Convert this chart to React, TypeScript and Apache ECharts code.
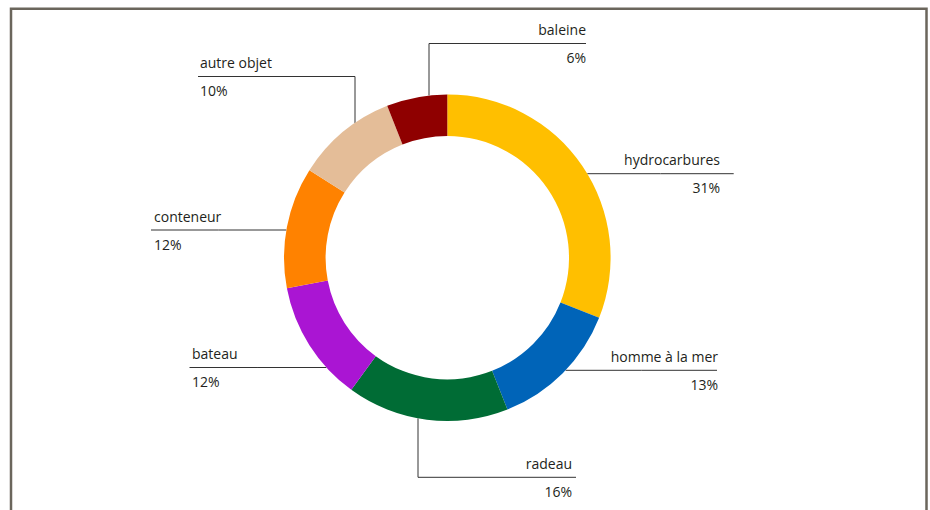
import React, { useEffect, useRef } from "react";
import * as echarts from "echarts";

// ---- data ----
const categories = [
  "hydrocarbures",
  "homme à la mer",
  "radeau",
  "bateau",
  "conteneur",
  "autre objet",
  "baleine",
];
const values = [31, 13, 16, 12, 12, 10, 6];
const colors = ["#ffbf00", "#0064b8", "#006c35", "#aa15d3", "#ff8200", "#e4bd98", "#8f0000"];

// ---- layout (positions only) ----
const CX = 447.3;
const CY = 257.7;
const R_OUT = 163.3;
const R_IN = 121.7;

type Lay = {
  kind: "h" | "v";
  side: 1 | -1; // h: 1 right / -1 left ; v: -1 top / 1 bottom
  anchorX?: number;
  lineY: number;
  endX: number;
  textX: number;
  align: "left" | "right";
};

const labelLayouts: Lay[] = [
  { kind: "h", side: 1, lineY: 173.7, endX: 733.7, textX: 720, align: "right" },
  { kind: "h", side: 1, lineY: 370.3, endX: 717, textX: 718, align: "right" },
  { kind: "v", side: 1, anchorX: 418, lineY: 477.3, endX: 576, textX: 572, align: "right" },
  { kind: "h", side: -1, lineY: 367.5, endX: 189.5, textX: 192, align: "left" },
  { kind: "h", side: -1, lineY: 230, endX: 151, textX: 154, align: "left" },
  { kind: "v", side: -1, anchorX: 355, lineY: 76.5, endX: 198, textX: 200, align: "left" },
  { kind: "v", side: -1, anchorX: 429, lineY: 43.5, endX: 586, textX: 586, align: "right" },
];

const TEXT_COLOR = "#231f20";
const FONT = "'Open Sans', 'Noto Sans', sans-serif";

export default function App() {
  const ref = useRef<HTMLDivElement>(null);

  useEffect(() => {
    if (!ref.current) return;
    const chart = echarts.init(ref.current, undefined, { renderer: "svg" });

    const data = categories.map((name, i) => ({
      name,
      value: values[i],
      itemStyle: { color: colors[i] },
    }));

    chart.setOption({
      animation: false,
      backgroundColor: "#ffffff",
      graphic: [
        {
          type: "rect",
          shape: { x: 11, y: 8.8, width: 915.5, height: 560 },
          style: { fill: "none", stroke: "#6b665c", lineWidth: 2.5 },
          silent: true,
        },
      ],
      series: [
        {
          type: "pie",
          center: [CX, CY],
          radius: [R_IN, R_OUT],
          startAngle: 90,
          clockwise: true,
          silent: true,
          emphasis: { disabled: true },
          data,
          itemStyle: { borderWidth: 0 },
          label: {
            show: true,
            formatter: (p: any) => `{n|${p.name}}\n{p|${Math.round(p.percent)}%}`,
            color: TEXT_COLOR,
            fontFamily: FONT,
            fontSize: 14,
            rich: {
              n: { fontFamily: FONT, fontSize: 14, color: TEXT_COLOR, lineHeight: 28 },
              p: { fontFamily: FONT, fontSize: 14, color: TEXT_COLOR, lineHeight: 28 },
            },
          },
          labelLine: {
            show: true,
            smooth: false,
            lineStyle: { color: "#333333", width: 1 },
          },
          labelLayout: (params: any) => {
            const L = labelLayouts[params.dataIndex];
            let points: number[][];
            if (L.kind === "h") {
              const dy = L.lineY - CY;
              const sx = CX + L.side * Math.sqrt(Math.max(0, R_OUT * R_OUT - dy * dy));
              points = [
                [sx, L.lineY],
                [(sx + L.endX) / 2, L.lineY],
                [L.endX, L.lineY],
              ];
            } else {
              const dx = (L.anchorX as number) - CX;
              const sy = CY + L.side * Math.sqrt(Math.max(0, R_OUT * R_OUT - dx * dx));
              points = [
                [L.anchorX as number, sy],
                [L.anchorX as number, L.lineY],
                [L.endX, L.lineY],
              ];
            }
            return {
              x: L.textX,
              y: L.lineY,
              align: L.align,
              verticalAlign: "middle",
              labelLinePoints: points,
            };
          },
        },
      ],
    });

    return () => chart.dispose();
  }, []);

  return (
    <div
      ref={ref}
      style={{ position: "fixed", left: 0, top: 0, width: 930, height: 510 }}
    />
  );
}
